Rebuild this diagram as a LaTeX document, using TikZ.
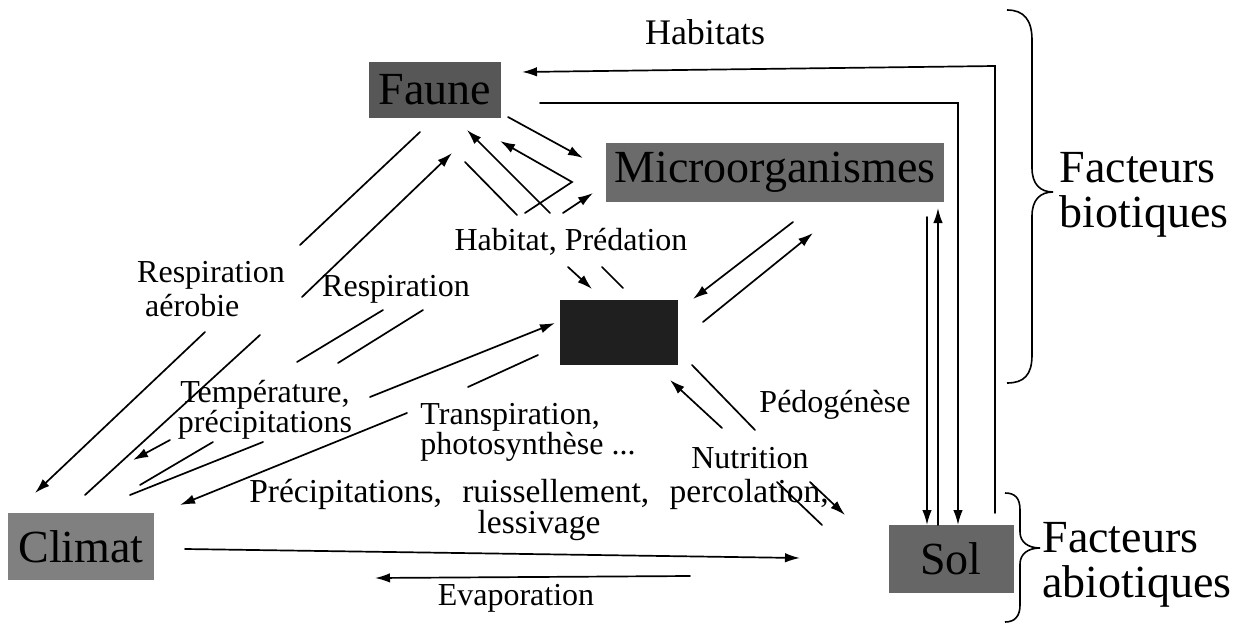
\documentclass[tikz,border=0pt]{standalone}
\usepackage{fontspec}
\setmainfont{Liberation Serif}
\usetikzlibrary{arrows.meta}
\newcommand{\bigword}[1]{\scalebox{2}{\fontsize{23pt}{21pt}\selectfont #1}}
\newcommand{\bigpair}[2]{\scalebox{2}{\fontsize{23pt}{21pt}\selectfont\begin{tabular}{@{}l@{}}#1\\#2\end{tabular}}}
\begin{document}
\begin{tikzpicture}[x=1pt,y=-1pt,
  box/.style={draw=none, inner sep=0pt},
  lbl/.style={inner sep=0pt, font=\fontsize{32pt}{30pt}\selectfont, align=center},
  big/.style={inner sep=0pt},
  ln/.style={line width=1.7pt, line cap=round},
  ar/.style={ln, -{Latex[length=15pt,width=9.5pt]}},
  brace/.style={line width=1.6pt}
]
\useasboundingbox (0,0) rectangle (1247,626);
\fill[white] (0,0) rectangle (1247,626);

% boxes
\node[box, fill=black!66, minimum width=132pt, minimum height=56pt] (faune) at (435,90) {\bigword{Faune}};
\node[box, fill=black!58, minimum width=338pt, minimum height=59pt] (micro) at (775,172.5) {\bigword{Microorganismes}};
\node[box, fill=black!88, minimum width=118pt, minimum height=65pt] (flore) at (619,332.5) {};
\node[box, fill=black!50, minimum width=146pt, minimum height=67pt] (climat) at (81,546.5) {\bigword{Climat}};
\node[box, fill=black!60, minimum width=125pt, minimum height=68pt] (sol) at (951,559) {\bigword{Sol}};

% labels
\node[lbl] (habitats) at (705,32) {\scalebox{1.5}{\fontsize{24pt}{24pt}\selectfont Habitats}};
\node[lbl, align=left, font=\fontsize{32pt}{34pt}\selectfont] (respa) at (211,289) {Respiration\\\hspace{8pt}aérobie};
\node[lbl] (resp) at (396,289) {Respiration};
\node[lbl] (habpred) at (571,242) {Habitat, Prédation};
\node[lbl, font=\fontsize{32pt}{27pt}\selectfont] (temp) at (265,410) {Température,\\précipitations};
\node[lbl, align=left, font=\fontsize{32pt}{30pt}\selectfont] (transp) at (528,432) {Transpiration,\\photosynthèse ...};
\node[lbl] (pedo) at (835,405) {Pédogénèse};
\node[lbl] (nutri) at (750,458) {Nutrition};
\node[lbl, font=\fontsize{33.5pt}{24pt}\selectfont] (precip) at (539,510) {Précipitations,\hspace{12pt} ruissellement,\hspace{12pt} percolation,\\lessivage};
\node[lbl] (evap) at (516,598) {Evaporation};
\node[big] (fbio) at (1144,196) {\bigpair{Facteurs}{biotiques}};
\node[big] (fabio) at (1137,566) {\bigpair{Facteurs}{abiotiques}};

% braces
\draw[brace] (1007,10) .. controls (1024,10) and (1032,20) .. (1032,40) -- (1032,168)
  .. controls (1032,184) and (1040,192) .. (1053,192)
  .. controls (1040,192) and (1032,200) .. (1032,216) -- (1032,355)
  .. controls (1032,375) and (1024,383) .. (1007,383);
\draw[brace] (1005,493) .. controls (1015,493) and (1020,498) .. (1020,510) -- (1020,532)
  .. controls (1020,542) and (1028,548) .. (1040,548)
  .. controls (1028,548) and (1020,554) .. (1020,564) -- (1020,605)
  .. controls (1020,616) and (1015,622) .. (1005,622);

% Habitats connectors
\coordinate (a1) at (995,513); \coordinate (a2) at (995,66); \coordinate (a3) at (522,72);
\draw[ar] (a1) -- (a2) -- (a3);
\coordinate (b1) at (540,103); \coordinate (b2) at (958,103); \coordinate (b3) at (958,525);
\draw[ar] (b1) -- (b2) -- (b3);
% Micro <-> Sol
\coordinate (c1) at (927,217); \coordinate (c2) at (927,525);
\draw[ar] (c1) -- (c2);
\coordinate (d1) at (938,525); \coordinate (d2) at (938,208);
\draw[ar] (d1) -- (d2);
% Faune <-> Micro
\coordinate (e1) at (508,117); \coordinate (e2) at (583,158);
\draw[ar] (e1) -- (e2);
\coordinate (f1) at (525,213); \coordinate (f2) at (572,182); \coordinate (f3) at (500,141);
\draw[ar] (f1) -- (f2) -- (f3);
\coordinate (g1) at (550,213); \coordinate (g2) at (467,130);
\draw[ar] (g1) -- (g2);
\coordinate (h1) at (465,162); \coordinate (h2) at (517,215);
\draw[ln] (h1) -- (h2);
\coordinate (i1) at (563,213); \coordinate (i2) at (593,193);
\draw[ar] (i1) -- (i2);
% Habitat, Predation -> Flore
\coordinate (j1) at (568,267); \coordinate (j2) at (592,289);
\draw[ar] (j1) -- (j2);
\coordinate (k1) at (602,267); \coordinate (k2) at (623,288);
\draw[ln] (k1) -- (k2);
% Micro <-> Flore
\coordinate (l1) at (793,222); \coordinate (l2) at (693,299);
\draw[ar] (l1) -- (l2);
\coordinate (m1) at (703,322); \coordinate (m2) at (813,233);
\draw[ar] (m1) -- (m2);
% Flore <-> Sol
\coordinate (n1) at (722,428); \coordinate (n2) at (670,380);
\draw[ar] (n1) -- (n2);
\coordinate (o1) at (692,365); \coordinate (o2) at (755,430);
\draw[ln] (o1) -- (o2);
\coordinate (p1) at (777,482); \coordinate (p2) at (822,525);
\draw[ln] (p1) -- (p2);
\coordinate (q1) at (810,482); \coordinate (q2) at (845,515);
\draw[ar] (q1) -- (q2);
% Climat <-> Sol
\coordinate (r1) at (185,549); \coordinate (r2) at (800,558);
\draw[ar] (r1) -- (r2);
\coordinate (s1) at (690,576); \coordinate (s2) at (375,578);
\draw[ar] (s1) -- (s2);
% Respiration aerobie: Faune -> Climat
\coordinate (t1) at (420,132); \coordinate (t2) at (300,245);
\draw[ln] (t1) -- (t2);
\coordinate (t3) at (205,332); \coordinate (t4) at (35,493);
\draw[ar] (t3) -- (t4);
% Climat -> Faune
\coordinate (u1) at (85,495); \coordinate (u2) at (260,335);
\draw[ln] (u1) -- (u2);
\coordinate (u3) at (302,297); \coordinate (u4) at (452,153);
\draw[ar] (u3) -- (u4);
% Respiration pair
\coordinate (v1) at (297,362); \coordinate (v2) at (383,310);
\draw[ln] (v1) -- (v2);
\coordinate (w1) at (338,363); \coordinate (w2) at (423,310);
\draw[ln] (w1) -- (w2);
% Temperature -> Flore
\coordinate (x1) at (370,397); \coordinate (x2) at (555,323);
\draw[ar] (x1) -- (x2);
\coordinate (y1) at (468,387); \coordinate (y2) at (538,355);
\draw[ln] (y1) -- (y2);
% Transpiration -> Climat
\coordinate (z1) at (407,413); \coordinate (z2) at (180,505);
\draw[ar] (z1) -- (z2);
% Climat side of Temperature
\coordinate (aa1) at (170,440); \coordinate (aa2) at (133,460);
\draw[ar] (aa1) -- (aa2);
\coordinate (bb1) at (140,485); \coordinate (bb2) at (213,442);
\draw[ln] (bb1) -- (bb2);
\coordinate (cc1) at (130,495); \coordinate (cc2) at (263,442);
\draw[ln] (cc1) -- (cc2);
\end{tikzpicture}
\end{document}
